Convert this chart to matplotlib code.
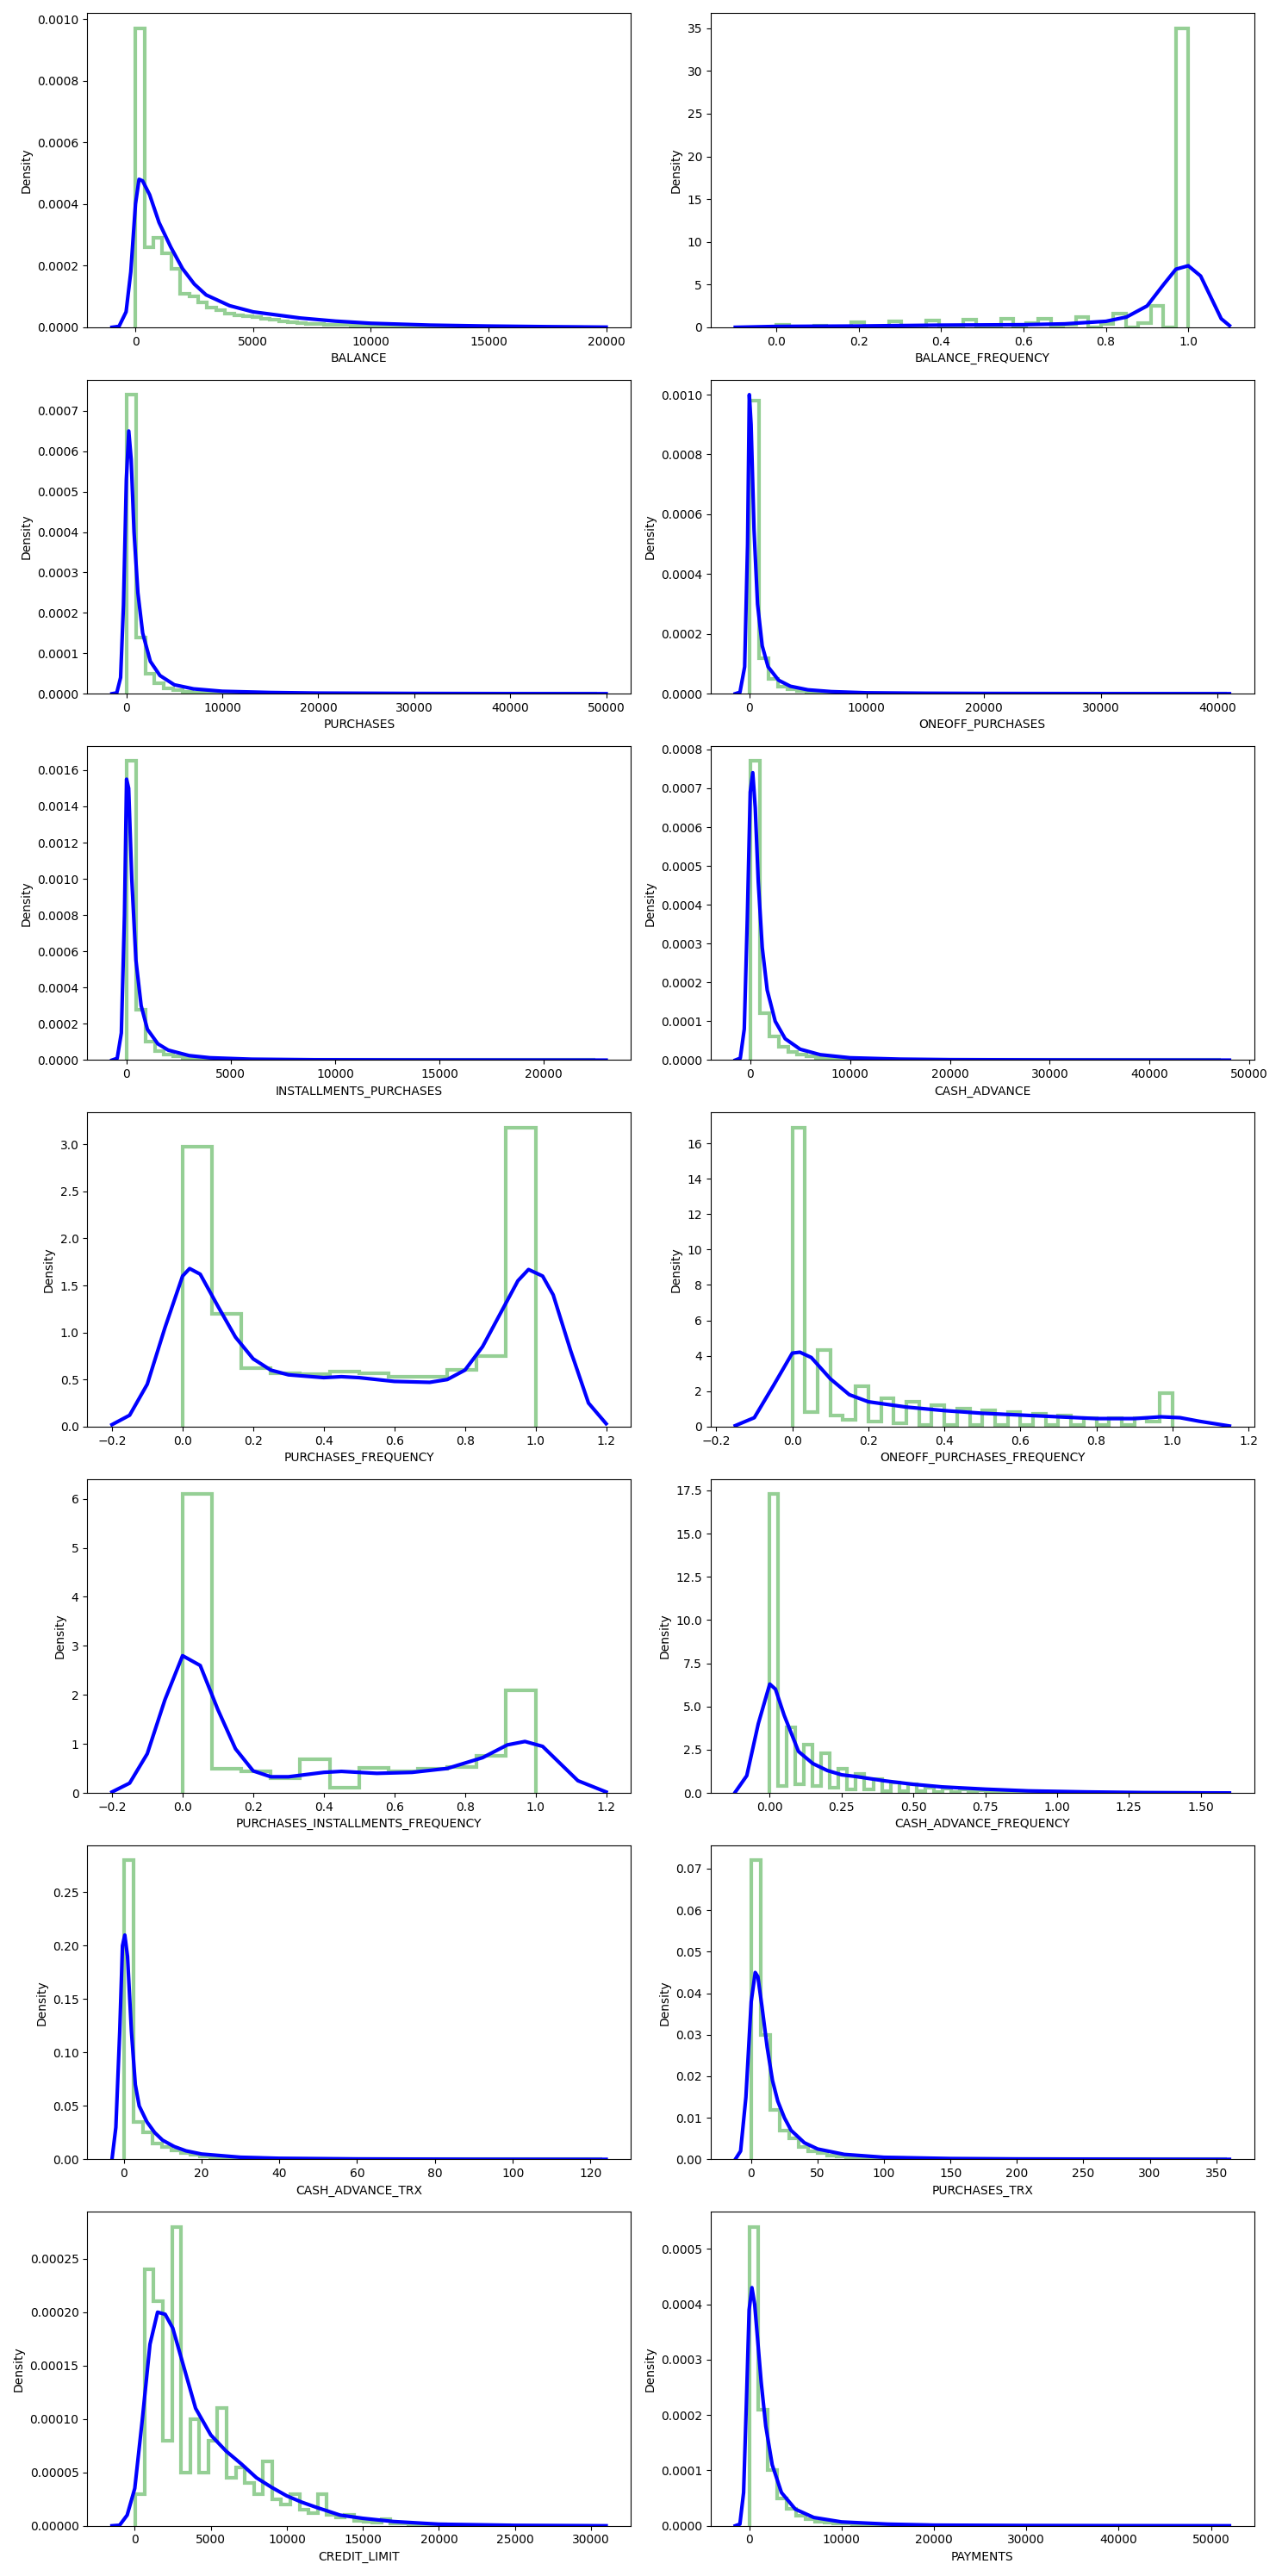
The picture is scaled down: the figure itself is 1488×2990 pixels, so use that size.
import numpy as np
import matplotlib
matplotlib.use("Agg")
import matplotlib.pyplot as plt

names = ["BALANCE", "BALANCE_FREQUENCY", "PURCHASES", "ONEOFF_PURCHASES",
         "INSTALLMENTS_PURCHASES", "CASH_ADVANCE", "PURCHASES_FREQUENCY",
         "ONEOFF_PURCHASES_FREQUENCY", "PURCHASES_INSTALLMENTS_FREQUENCY",
         "CASH_ADVANCE_FREQUENCY", "CASH_ADVANCE_TRX", "PURCHASES_TRX",
         "CREDIT_LIMIT", "PAYMENTS"]

# histogram ranges (min, max of data) and bin heights
hist_range = {
    "BALANCE": (0, 19043),
    "BALANCE_FREQUENCY": (0, 1),
    "PURCHASES": (0, 49040),
    "ONEOFF_PURCHASES": (0, 40761),
    "INSTALLMENTS_PURCHASES": (0, 22500),
    "CASH_ADVANCE": (0, 47137),
    "PURCHASES_FREQUENCY": (0, 1),
    "ONEOFF_PURCHASES_FREQUENCY": (0, 1),
    "PURCHASES_INSTALLMENTS_FREQUENCY": (0, 1),
    "CASH_ADVANCE_FREQUENCY": (0, 1.5),
    "CASH_ADVANCE_TRX": (0, 123),
    "PURCHASES_TRX": (0, 358),
    "CREDIT_LIMIT": (50, 30000),
    "PAYMENTS": (0, 50721),
}
hist_heights = {
    "BALANCE": [9.7e-4, 2.6e-4, 2.9e-4, 2.4e-4, 1.9e-4, 1.1e-4, 1.0e-4, 0.8e-4, 0.65e-4, 0.55e-4,
                0.45e-4, 0.4e-4, 0.36e-4, 0.32e-4, 0.28e-4, 0.24e-4, 0.2e-4, 0.17e-4, 0.14e-4, 0.12e-4,
                0.1e-4, 0.09e-4, 0.08e-4, 0.07e-4, 0.06e-4, 0.05e-4, 0.045e-4, 0.04e-4, 0.035e-4, 0.03e-4,
                0.025e-4, 0.02e-4, 0.018e-4, 0.015e-4, 0.012e-4, 0.01e-4, 0.008e-4, 0.007e-4, 0.006e-4, 0.005e-4,
                0.004e-4, 0.003e-4, 0.003e-4, 0.002e-4, 0.002e-4, 0.001e-4, 0.001e-4, 0.001e-4, 0.001e-4, 0.001e-4],
    "BALANCE_FREQUENCY": [0.3, 0, 0, 0.2, 0, 0, 0.6, 0, 0, 0.7, 0, 0, 0.8, 0, 0, 0.9, 0,
                          0, 1.0, 0, 0.5, 1.0, 0, 0.3, 1.2, 0, 0.4, 1.6, 0, 0.5, 2.5, 0, 35.0],
    "PURCHASES": [7.4e-4, 1.4e-4, 0.5e-4, 0.25e-4, 0.14e-4, 0.08e-4, 0.05e-4, 0.035e-4, 0.025e-4, 0.02e-4,
                  0.015e-4, 0.01e-4, 0.008e-4, 0.006e-4, 0.005e-4, 0.004e-4, 0.003e-4, 0.002e-4, 0.002e-4, 0.001e-4,
                  0.001e-4, 0.001e-4, 0.001e-4, 0.0005e-4, 0.0005e-4, 0.0005e-4, 0.0005e-4, 0.0003e-4, 0.0003e-4, 0.0003e-4,
                  0.0002e-4, 0.0002e-4, 0.0002e-4, 0.0001e-4, 0.0001e-4, 0.0001e-4, 0.0001e-4, 0.0001e-4, 0.0001e-4, 0.0001e-4,
                  0.0001e-4, 0, 0, 0, 0, 0, 0, 0, 0, 0.0001e-4],
    "ONEOFF_PURCHASES": [9.8e-4, 1.2e-4, 0.5e-4, 0.25e-4, 0.14e-4, 0.08e-4, 0.05e-4, 0.035e-4, 0.025e-4, 0.02e-4,
                         0.015e-4, 0.01e-4, 0.008e-4, 0.006e-4, 0.005e-4, 0.004e-4, 0.003e-4, 0.002e-4, 0.002e-4, 0.001e-4,
                         0.001e-4, 0.001e-4, 0.001e-4, 0.0005e-4, 0.0005e-4, 0.0005e-4, 0.0005e-4, 0.0003e-4, 0.0003e-4, 0.0003e-4,
                         0.0002e-4, 0.0002e-4, 0.0002e-4, 0.0001e-4, 0.0001e-4, 0.0001e-4, 0.0001e-4, 0, 0, 0,
                         0, 0, 0, 0, 0, 0, 0, 0, 0, 0.0001e-4],
    "INSTALLMENTS_PURCHASES": [16.5e-4, 2.8e-4, 1.0e-4, 0.5e-4, 0.3e-4, 0.2e-4, 0.12e-4, 0.08e-4, 0.06e-4, 0.04e-4,
                               0.03e-4, 0.02e-4, 0.015e-4, 0.01e-4, 0.008e-4, 0.006e-4, 0.005e-4, 0.004e-4, 0.003e-4, 0.002e-4,
                               0.002e-4, 0.001e-4, 0.001e-4, 0.001e-4, 0.001e-4, 0.0005e-4, 0.0005e-4, 0.0005e-4, 0.0003e-4, 0.0003e-4,
                               0.0002e-4, 0.0002e-4, 0.0001e-4, 0.0001e-4, 0.0001e-4, 0, 0, 0, 0, 0,
                               0, 0, 0, 0, 0, 0, 0, 0, 0, 0.0001e-4],
    "CASH_ADVANCE": [7.7e-4, 1.2e-4, 0.6e-4, 0.35e-4, 0.22e-4, 0.14e-4, 0.09e-4, 0.06e-4, 0.045e-4, 0.035e-4,
                     0.025e-4, 0.02e-4, 0.015e-4, 0.01e-4, 0.008e-4, 0.006e-4, 0.005e-4, 0.004e-4, 0.003e-4, 0.002e-4,
                     0.002e-4, 0.001e-4, 0.001e-4, 0.001e-4, 0.001e-4, 0.0005e-4, 0.0005e-4, 0.0005e-4, 0.0003e-4, 0.0003e-4,
                     0.0002e-4, 0.0002e-4, 0.0001e-4, 0.0001e-4, 0.0001e-4, 0, 0, 0, 0, 0,
                     0, 0, 0, 0, 0, 0, 0, 0, 0, 0.0001e-4],
    "PURCHASES_FREQUENCY": [2.98, 1.2, 0.62, 0.57, 0.56, 0.58, 0.57, 0.53, 0.53, 0.6, 0.75, 3.18],
    "ONEOFF_PURCHASES_FREQUENCY": [16.9, 0.8, 4.3, 0.6, 0.4, 2.3, 0.3, 1.6, 0.2, 1.4, 0.1, 1.2, 0.1, 1.0, 0.1,
                                   0.9, 0.1, 0.8, 0.1, 0.7, 0.1, 0.6, 0.1, 0.5, 0.1, 0.5, 0.1, 0.5, 0.3, 1.9],
    "PURCHASES_INSTALLMENTS_FREQUENCY": [6.1, 0.5, 0.45, 0.3, 0.68, 0.1, 0.52, 0.45, 0.5, 0.53, 0.75, 2.1],
    "CASH_ADVANCE_FREQUENCY": [17.3, 0.4, 3.8, 0.5, 2.8, 0.4, 2.3, 0.3, 1.4, 0.2, 1.1, 0.2, 0.8, 0.1, 0.6,
                               0.1, 0.5, 0.1, 0.3, 0.05, 0.25, 0.05, 0.2, 0.05, 0.15, 0.03, 0.1, 0.03, 0.08, 0.02,
                               0.06, 0.02, 0.04, 0.01, 0.03, 0.01, 0.02, 0.01, 0.01, 0.01,
                               0.01, 0, 0, 0, 0, 0, 0, 0, 0, 0.01],
    "CASH_ADVANCE_TRX": [0.28, 0.035, 0.025, 0.015, 0.012, 0.008, 0.006, 0.004, 0.003, 0.002,
                         0.0015, 0.001, 0.001, 0.0008, 0.0006, 0.0005, 0.0004, 0.0003, 0.0002, 0.0002,
                         0.0001, 0.0001, 0.0001, 0.0001, 0.0001, 0, 0, 0, 0, 0,
                         0, 0, 0, 0, 0, 0, 0, 0, 0, 0,
                         0, 0, 0, 0, 0, 0, 0, 0, 0, 0.0001],
    "PURCHASES_TRX": [0.072, 0.030, 0.012, 0.007, 0.005, 0.003, 0.002, 0.0015, 0.001, 0.0008,
                      0.0006, 0.0005, 0.0004, 0.0003, 0.0002, 0.0002, 0.0001, 0.0001, 0.0001, 0.0001,
                      0.0001, 0.00005, 0.00005, 0.00005, 0.00005, 0, 0, 0, 0, 0,
                      0, 0, 0, 0, 0, 0, 0, 0, 0, 0,
                      0, 0, 0, 0, 0, 0, 0, 0, 0, 0.00005],
    "CREDIT_LIMIT": [0.3e-4, 2.4e-4, 2.1e-4, 0.8e-4, 2.8e-4, 0.5e-4, 1.0e-4, 0.5e-4, 0.8e-4, 1.1e-4,
                     0.45e-4, 0.55e-4, 0.4e-4, 0.3e-4, 0.6e-4, 0.25e-4, 0.2e-4, 0.3e-4, 0.15e-4, 0.12e-4,
                     0.3e-4, 0.1e-4, 0.08e-4, 0.1e-4, 0.05e-4, 0.04e-4, 0.03e-4, 0.06e-4, 0.02e-4, 0.02e-4,
                     0.015e-4, 0.01e-4, 0.01e-4, 0.01e-4, 0.005e-4, 0.005e-4, 0.005e-4, 0.003e-4, 0.003e-4, 0.002e-4,
                     0.002e-4, 0.001e-4, 0.001e-4, 0.001e-4, 0.001e-4, 0, 0, 0, 0, 0.001e-4],
    "PAYMENTS": [5.4e-4, 2.1e-4, 1.0e-4, 0.5e-4, 0.3e-4, 0.18e-4, 0.12e-4, 0.08e-4, 0.06e-4, 0.045e-4,
                 0.035e-4, 0.025e-4, 0.02e-4, 0.015e-4, 0.01e-4, 0.008e-4, 0.006e-4, 0.005e-4, 0.004e-4, 0.003e-4,
                 0.002e-4, 0.002e-4, 0.001e-4, 0.001e-4, 0.001e-4, 0.0005e-4, 0.0005e-4, 0.0005e-4, 0.0003e-4, 0.0003e-4,
                 0.0002e-4, 0.0002e-4, 0.0001e-4, 0.0001e-4, 0.0001e-4, 0, 0, 0, 0, 0,
                 0, 0, 0, 0, 0, 0, 0, 0, 0, 0.0001e-4],
}

# KDE curves: (x, density)
kde_x = {
    "BALANCE": [-1000, -700, -400, -200, 0, 150, 300, 600, 1000, 1500, 2000, 2500, 3000, 4000, 5000, 6000, 7000, 8500, 10000, 12500, 15000, 17500, 20000],
    "BALANCE_FREQUENCY": [-0.1, 0.0, 0.2, 0.4, 0.6, 0.7, 0.8, 0.85, 0.9, 0.94, 0.97, 1.0, 1.03, 1.06, 1.08, 1.1],
    "PURCHASES": [-1500, -1000, -600, -300, 0, 250, 500, 800, 1200, 1700, 2500, 3500, 5000, 7000, 10000, 15000, 20000, 30000, 40000, 50000],
    "ONEOFF_PURCHASES": [-1200, -800, -400, -150, 0, 150, 400, 700, 1100, 1600, 2500, 3500, 5000, 7000, 10000, 15000, 20000, 30000, 41000],
    "INSTALLMENTS_PURCHASES": [-700, -450, -250, -100, 0, 100, 250, 450, 700, 1000, 1500, 2000, 3000, 4000, 6000, 9000, 13000, 18000, 23000],
    "CASH_ADVANCE": [-1500, -1000, -600, -300, 0, 250, 500, 800, 1200, 1700, 2500, 3500, 5000, 7000, 10000, 15000, 20000, 30000, 40000, 48000],
    "PURCHASES_FREQUENCY": [-0.2, -0.15, -0.1, -0.05, 0.0, 0.02, 0.05, 0.1, 0.15, 0.2, 0.25, 0.3, 0.4, 0.45, 0.5, 0.6, 0.7, 0.75, 0.8, 0.85, 0.9, 0.95, 0.98, 1.02, 1.05, 1.1, 1.15, 1.2],
    "ONEOFF_PURCHASES_FREQUENCY": [-0.15, -0.1, -0.05, 0.0, 0.02, 0.05, 0.1, 0.15, 0.2, 0.3, 0.4, 0.5, 0.6, 0.7, 0.8, 0.9, 0.97, 1.02, 1.07, 1.15],
    "PURCHASES_INSTALLMENTS_FREQUENCY": [-0.2, -0.15, -0.1, -0.05, 0.0, 0.05, 0.1, 0.15, 0.2, 0.25, 0.3, 0.4, 0.45, 0.55, 0.65, 0.75, 0.85, 0.92, 0.97, 1.02, 1.07, 1.12, 1.2],
    "CASH_ADVANCE_FREQUENCY": [-0.12, -0.08, -0.04, 0.0, 0.02, 0.05, 0.1, 0.15, 0.2, 0.25, 0.3, 0.4, 0.5, 0.6, 0.75, 0.9, 1.1, 1.3, 1.5, 1.6],
    "CASH_ADVANCE_TRX": [-3, -2, -1, -0.3, 0.3, 1, 2, 3, 4, 6, 8, 10, 13, 16, 20, 30, 40, 60, 90, 124],
    "PURCHASES_TRX": [-12, -8, -4, 0, 3, 5, 8, 12, 16, 20, 25, 30, 40, 50, 70, 100, 150, 200, 300, 360],
    "CREDIT_LIMIT": [-1500, -1000, -500, 0, 500, 1000, 1500, 2000, 2500, 3000, 3500, 4000, 5000, 6000, 7000, 8000, 9000, 10000, 11000, 12000, 13500, 15000, 17000, 20000, 25000, 31000],
    "PAYMENTS": [-1500, -1000, -600, -300, 0, 300, 600, 900, 1300, 1800, 2500, 3500, 5000, 7000, 10000, 15000, 20000, 30000, 40000, 52000],
}
kde_y = {
    "BALANCE": [0, 0.03e-4, 0.5e-4, 1.8e-4, 4.0e-4, 4.8e-4, 4.75e-4, 4.3e-4, 3.4e-4, 2.6e-4, 1.9e-4, 1.4e-4, 1.05e-4, 0.7e-4, 0.5e-4, 0.4e-4, 0.3e-4, 0.2e-4, 0.13e-4, 0.07e-4, 0.04e-4, 0.02e-4, 0.005e-4],
    "BALANCE_FREQUENCY": [0.0, 0.1, 0.15, 0.25, 0.3, 0.4, 0.7, 1.2, 2.5, 5.0, 6.8, 7.2, 6.0, 3.0, 1.0, 0.2],
    "PURCHASES": [0, 0.02e-4, 0.4e-4, 2.2e-4, 5.3e-4, 6.5e-4, 5.8e-4, 4.0e-4, 2.5e-4, 1.5e-4, 0.8e-4, 0.45e-4, 0.22e-4, 0.12e-4, 0.06e-4, 0.03e-4, 0.015e-4, 0.006e-4, 0.002e-4, 0],
    "ONEOFF_PURCHASES": [0, 0.05e-4, 0.9e-4, 5.0e-4, 10.0e-4, 9.0e-4, 5.5e-4, 3.0e-4, 1.6e-4, 0.9e-4, 0.45e-4, 0.25e-4, 0.13e-4, 0.07e-4, 0.03e-4, 0.015e-4, 0.008e-4, 0.003e-4, 0],
    "INSTALLMENTS_PURCHASES": [0, 0.1e-4, 1.5e-4, 8.0e-4, 15.5e-4, 15.0e-4, 10.0e-4, 5.5e-4, 3.0e-4, 1.7e-4, 0.9e-4, 0.55e-4, 0.25e-4, 0.13e-4, 0.05e-4, 0.02e-4, 0.01e-4, 0.004e-4, 0],
    "CASH_ADVANCE": [0, 0.05e-4, 0.8e-4, 3.6e-4, 6.9e-4, 7.4e-4, 6.5e-4, 4.6e-4, 2.9e-4, 1.8e-4, 1.0e-4, 0.55e-4, 0.28e-4, 0.14e-4, 0.06e-4, 0.025e-4, 0.012e-4, 0.005e-4, 0.002e-4, 0],
    "PURCHASES_FREQUENCY": [0.02, 0.12, 0.45, 1.05, 1.6, 1.68, 1.62, 1.28, 0.95, 0.72, 0.6, 0.55, 0.52, 0.53, 0.52, 0.48, 0.47, 0.5, 0.6, 0.85, 1.2, 1.55, 1.67, 1.6, 1.4, 0.8, 0.25, 0.03],
    "ONEOFF_PURCHASES_FREQUENCY": [0.05, 0.5, 2.3, 4.15, 4.2, 3.9, 2.7, 1.8, 1.4, 1.1, 0.9, 0.75, 0.65, 0.55, 0.45, 0.45, 0.55, 0.5, 0.3, 0.03],
    "PURCHASES_INSTALLMENTS_FREQUENCY": [0.02, 0.2, 0.8, 1.9, 2.8, 2.6, 1.7, 0.9, 0.45, 0.33, 0.33, 0.42, 0.44, 0.4, 0.42, 0.5, 0.72, 0.98, 1.05, 0.95, 0.6, 0.25, 0.02],
    "CASH_ADVANCE_FREQUENCY": [0.05, 1.0, 4.0, 6.3, 6.0, 4.5, 2.4, 1.7, 1.3, 1.05, 0.95, 0.7, 0.5, 0.35, 0.22, 0.12, 0.06, 0.02, 0.005, 0],
    "CASH_ADVANCE_TRX": [0, 0.03, 0.12, 0.2, 0.21, 0.19, 0.12, 0.07, 0.05, 0.035, 0.025, 0.018, 0.012, 0.008, 0.005, 0.002, 0.001, 0.0004, 0.0001, 0],
    "PURCHASES_TRX": [0, 0.002, 0.015, 0.038, 0.045, 0.044, 0.037, 0.027, 0.019, 0.014, 0.01, 0.007, 0.004, 0.0025, 0.0012, 0.0005, 0.0002, 0.0001, 0.00003, 0],
    "CREDIT_LIMIT": [0, 0.005e-4, 0.1e-4, 0.35e-4, 1.0e-4, 1.7e-4, 2.0e-4, 1.98e-4, 1.85e-4, 1.6e-4, 1.35e-4, 1.1e-4, 0.85e-4, 0.7e-4, 0.58e-4, 0.45e-4, 0.36e-4, 0.28e-4, 0.22e-4, 0.17e-4, 0.1e-4, 0.07e-4, 0.04e-4, 0.015e-4, 0.004e-4, 0],
    "PAYMENTS": [0, 0.03e-4, 0.6e-4, 2.2e-4, 3.9e-4, 4.3e-4, 4.0e-4, 3.4e-4, 2.6e-4, 1.8e-4, 1.1e-4, 0.6e-4, 0.3e-4, 0.15e-4, 0.07e-4, 0.03e-4, 0.012e-4, 0.005e-4, 0.002e-4, 0],
}

fig, axes = plt.subplots(7, 2, figsize=(14.88, 29.9), dpi=100)
for ax, name in zip(axes.ravel(), names):
    lo, hi = hist_range[name]
    h = np.array(hist_heights[name])
    edges = np.linspace(lo, hi, len(h) + 1)
    ax.stairs(h, edges, color="#2ca02c", alpha=0.5, linewidth=3)
    ax.plot(kde_x[name], kde_y[name], color="blue", linewidth=3)
    ax.set_ylim(bottom=0)
    ax.set_xlabel(name)
    ax.set_ylabel("Density")
fig.tight_layout()
fig.savefig("out.png", dpi=100)
